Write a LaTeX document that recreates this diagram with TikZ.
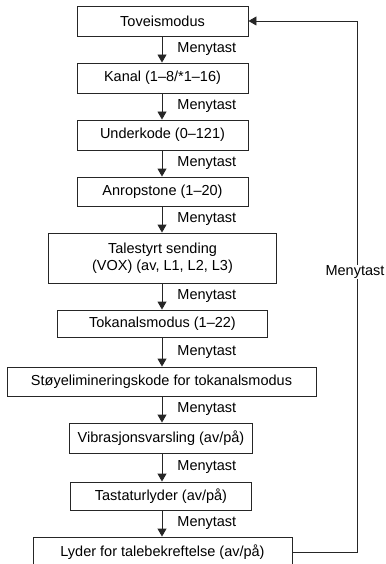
\documentclass[tikz,border=0pt]{standalone}
\usepackage{fontspec}
\setmainfont{Liberation Sans}
\usetikzlibrary{arrows.meta}
\begin{document}
\begin{tikzpicture}[x=1pt,y=-1pt,
  box/.style={draw=black!85,line width=0.9pt,inner sep=0pt,align=center,font=\fontsize{14.5}{17}\selectfont},
  lbl/.style={anchor=west,inner sep=0pt,font=\fontsize{14.5}{17}\selectfont},
  arr/.style={draw=black!85,line width=0.9pt,-{Triangle[width=9pt,length=8pt]}}]
\useasboundingbox (0,0) rectangle (385,564);
\node[box,minimum width=171pt,minimum height=30pt] (b1) at (162.5,21) {Toveismodus};
\node[box,minimum width=171pt,minimum height=30pt] (b2) at (162.5,78) {Kanal (1–8/*1–16)};
\node[box,minimum width=171pt,minimum height=30pt] (b3) at (162.5,135) {Underkode (0–121)};
\node[box,minimum width=171pt,minimum height=29pt] (b4) at (162.5,191.5) {Anropstone (1–20)};
\node[box,minimum width=228pt,minimum height=50pt] (b5) at (162.5,258) {Talestyrt sending\\(VOX) (av, L1, L2, L3)};
\node[box,minimum width=210pt,minimum height=27pt] (b6) at (162.5,323.5) {Tokanalsmodus (1–22)};
\node[box,minimum width=309pt,minimum height=29pt] (b7) at (161.5,381.5) {Støyelimineringskode for tokanalsmodus};
\node[box,minimum width=183pt,minimum height=30pt] (b8) at (161,438) {Vibrasjonsvarsling (av/på)};
\node[box,minimum width=181pt,minimum height=28pt] (b9) at (161,496) {Tastaturlyder (av/på)};
\node[box,minimum width=259pt,minimum height=30pt] (b10) at (162.5,552) {Lyder for talebekreftelse (av/på)};
\foreach \a/\b in {b1/b2,b2/b3,b3/b4,b4/b5,b5/b6,b6/b7,b7/b8,b8/b9,b9/b10}{
  \draw[arr] (162,0 |- \a.south) -- (162,0 |- \b.north)
    node[lbl,midway,xshift=15pt] (l\a) {Menytast};
}
\coordinate (c1) at (357,552);
\coordinate (c2) at (357,21);
\draw[arr] (b10.east) -- (c1) -- (c2) -- (b1.east);
\node[lbl,anchor=center,fill=white,inner sep=1pt] (fb) at (355,272) {Menytast};
\end{tikzpicture}
\end{document}
